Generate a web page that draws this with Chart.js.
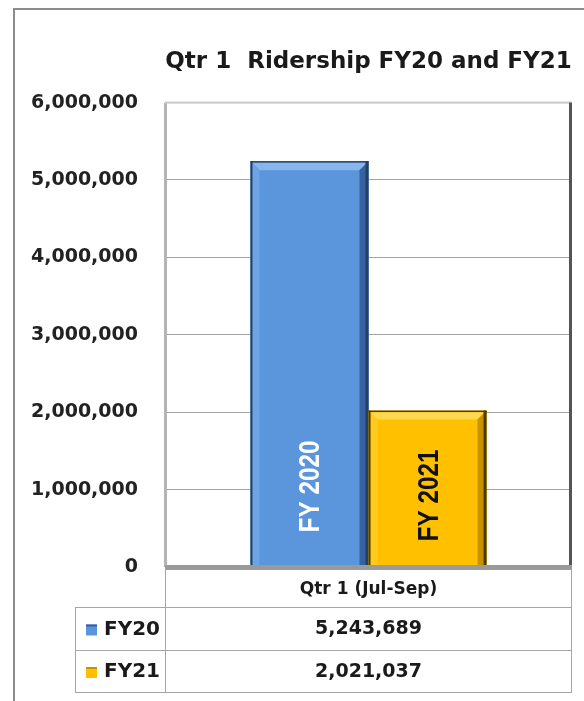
<!DOCTYPE html>
<html>
<head>
<meta charset="utf-8">
<script src="https://cdn.jsdelivr.net/npm/chart.js@4.4.0/dist/chart.umd.min.js"></script>
<style>
  html, body { margin: 0; padding: 0; background: #fff; }
  #wrap { width: 584px; height: 701px; position: relative; }
</style>
</head>
<body>
<div id="wrap"><canvas id="ridership"></canvas></div>
<script>
const categories = ["Qtr 1 (Jul-Sep)"];
const seriesNames = ["FY20", "FY21"];
const barLabels = ["FY 2020", "FY 2021"];
const fy20 = [5243689];
const fy21 = [2021037];
const yTicks = [0, 1000000, 2000000, 3000000, 4000000, 5000000, 6000000];

const fmt = (v) => v.toLocaleString("en-US");
const uiFont = "'DejaVu Sans', sans-serif";

const looks = [
  { main: "#5b95dc", light: "#86b6f0", side: "#6ea4e6", dark: "#34639f", edge: "#22405f", text: "#ffffff", gap: 34 },
  { main: "#ffc000", light: "#ffd94d", side: "#ffca1f", dark: "#c79400", edge: "#4d3a00", text: "#111111", gap: 25 },
];

// frame, back wall, bevelled bars and the data table
const decor = {
  id: "decor",
  beforeDraw(chart) {
    const c = chart.ctx;
    c.save();
    c.strokeStyle = "#8c8c8c";
    c.lineWidth = 2;
    c.beginPath();
    c.moveTo(14, 701);
    c.lineTo(14, 9);
    c.lineTo(584, 9);
    c.stroke();
    c.restore();
  },
  afterDatasetsDraw(chart) {
    const c = chart.ctx;
    const d = 9;
    chart.data.datasets.forEach((ds, i) => {
      const lk = looks[i];
      chart.getDatasetMeta(i).data.forEach((bar) => {
        const L = bar.x - bar.width / 2, R = bar.x + bar.width / 2;
        const T = bar.y, B = bar.base;
        c.save();
        const poly = (pts, col) => {
          c.fillStyle = col;
          c.beginPath();
          c.moveTo(pts[0][0], pts[0][1]);
          pts.slice(1).forEach((p) => c.lineTo(p[0], p[1]));
          c.closePath();
          c.fill();
        };
        poly([[L, T], [R, T], [R - d, T + d], [L + d, T + d]], lk.light);
        poly([[L, T], [L + d, T + d], [L + d, B], [L, B]], lk.side);
        poly([[R, T], [R, B], [R - d, B], [R - d, T + d]], lk.dark);
        c.fillStyle = lk.edge;
        c.fillRect(R - 3, T, 3, B - T);
        c.fillRect(L, T, 2, B - T);
        c.fillRect(L, T, R - L, 1.5);

        // rotated, slightly condensed label inside the bar
        c.translate(bar.x + 1, B - lk.gap);
        c.rotate(-Math.PI / 2);
        c.scale(0.84, 1);
        c.fillStyle = lk.text;
        c.font = "bold 29px 'Liberation Sans', Arial, sans-serif";
        c.textAlign = "left";
        c.textBaseline = "middle";
        c.fillText(barLabels[i], 0, 1);
        c.restore();
      });
    });
  },
  afterDraw(chart) {
    const c = chart.ctx;
    const a = chart.chartArea;
    c.save();
    // plot wall edges
    c.fillStyle = "#b4b4b4";
    c.fillRect(a.left - 1, a.top, 3, a.bottom - a.top);
    c.fillStyle = "#c8c8c8";
    c.fillRect(a.left, a.top - 1, a.right - a.left, 2);
    c.fillStyle = "#555";
    c.fillRect(a.right - 3, a.top, 3, a.bottom - a.top + 3);
    c.fillStyle = "#9a9a9a";
    c.fillRect(a.left, a.bottom - 2, a.right - a.left, 5);

    // data table
    const rowH = [38, 43, 42];
    const tLeft = 75;
    const y0 = a.bottom + 2;
    const y1 = y0 + rowH[0];
    const y2 = y1 + rowH[1];
    const y3 = y2 + rowH[2];
    c.strokeStyle = "#a6a6a6";
    c.lineWidth = 1;
    c.beginPath();
    [y1, y2, y3].forEach((y) => { c.moveTo(tLeft, y + 0.5); c.lineTo(a.right, y + 0.5); });
    c.moveTo(tLeft + 0.5, y1); c.lineTo(tLeft + 0.5, y3);
    c.moveTo(a.left + 0.5, y0); c.lineTo(a.left + 0.5, y3);
    c.moveTo(a.right - 0.5, y0); c.lineTo(a.right - 0.5, y3);
    c.stroke();

    c.fillStyle = "#1a1a1a";
    c.font = "bold 17px " + uiFont;
    c.textAlign = "center";
    c.textBaseline = "middle";
    const mid = (a.left + a.right) / 2;
    c.fillText(categories[0], mid, (y0 + y1) / 2 + 2);
    const vals = [fy20[0], fy21[0]];
    const rows = [[y1, y2], [y2, y3]];
    rows.forEach((r, i) => {
      const cy = (r[0] + r[1]) / 2 + 1;
      c.fillStyle = "#1a1a1a";
      c.textAlign = "center";
      c.font = "bold 19px " + uiFont;
      c.fillText(fmt(vals[i]), mid, cy);
      c.fillStyle = looks[i].main;
      c.fillRect(86, cy - 5, 11, 11);
      c.fillStyle = looks[i].dark;
      c.fillRect(86, cy - 5, 11, 2);
      c.fillStyle = "#1a1a1a";
      c.textAlign = "left";
      c.font = "bold 20px " + uiFont;
      c.fillText(seriesNames[i], 104, cy);
    });
    c.restore();
  },
};

new Chart(document.getElementById("ridership"), {
  type: "bar",
  data: {
    labels: categories,
    datasets: [
      { label: seriesNames[0], data: fy20, backgroundColor: looks[0].main, borderWidth: 0 },
      { label: seriesNames[1], data: fy21, backgroundColor: looks[1].main, borderWidth: 0 },
    ],
  },
  options: {
    responsive: true,
    maintainAspectRatio: false,
    animation: false,
    layout: { padding: { left: 0, right: 12, top: 0, bottom: 134 } },
    datasets: { bar: { categoryPercentage: 0.58, barPercentage: 1.0 } },
    plugins: {
      legend: { display: false },
      tooltip: { enabled: false },
      title: {
        display: true,
        text: "Qtr 1  Ridership FY20 and FY21",
        fullSize: false,
        color: "#1a1a1a",
        font: { family: uiFont, size: 23, weight: "bold" },
        padding: { top: 48, bottom: 27 },
      },
    },
    scales: {
      x: { display: false },
      y: {
        min: yTicks[0],
        max: yTicks[yTicks.length - 1],
        afterBuildTicks: (s) => { s.ticks = yTicks.map((v) => ({ value: v })); },
        afterFit: (s) => { s.width = 165; },
        border: { display: false },
        grid: { color: "#a3a3a3", drawTicks: false },
        ticks: {
          padding: 27,
          color: "#222",
          font: { family: uiFont, size: 19, weight: "bold" },
          callback: (v) => fmt(v),
        },
      },
    },
  },
  plugins: [decor],
});
</script>
</body>
</html>
